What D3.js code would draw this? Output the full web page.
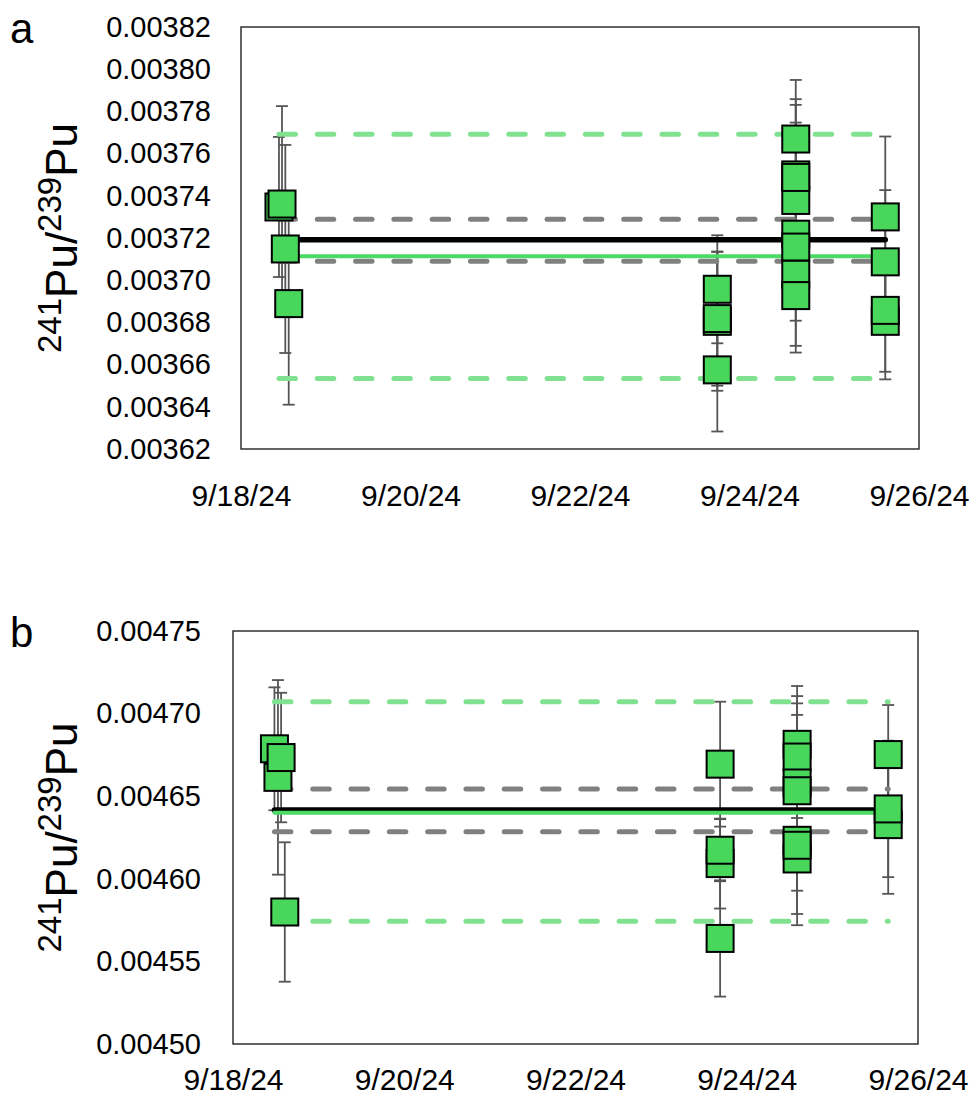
<!DOCTYPE html>
<html>
<head>
<meta charset="utf-8">
<style>
  body { margin: 0; background: #fff; }
  svg text { font-family: "Liberation Sans", Arial, sans-serif; fill: #000; }
</style>
<title>241Pu/239Pu ratios</title>
</head>
<body>
<script src="https://cdn.jsdelivr.net/npm/d3@7"></script>
<script>

// ---- panel a data ----
var aDates  = ["2024-09-18T10:45","2024-09-18T11:37","2024-09-18T12:33","2024-09-18T13:31",
               "2024-09-23T14:53","2024-09-23T14:53","2024-09-23T14:53","2024-09-23T14:53",
               "2024-09-24T13:06","2024-09-24T13:06","2024-09-24T13:06","2024-09-24T13:06",
               "2024-09-24T13:06","2024-09-24T13:06","2024-09-24T13:06","2024-09-24T13:06",
               "2024-09-25T14:27","2024-09-25T14:27","2024-09-25T14:27","2024-09-25T14:27"];
var aValues = [0.0037347,0.0037361,0.0037148,0.0036889,
               0.0036957,0.0036805,0.0036818,0.0036575,
               0.0037669,0.0037499,0.0037378,0.0037487,
               0.0037218,0.0037157,0.0037028,0.0036927,
               0.0037300,0.0037087,0.0036805,0.0036857];
var aErrors = [0.0000332,0.0000464,0.0000493,0.0000479,
               0.0000256,0.0000329,0.0000318,0.0000292,
               0.0000280,0.0000359,0.0000166,0.0000344,
               0.0000529,0.0000261,0.0000220,0.0000270,
               0.0000381,0.0000340,0.0000275,0.0000291];
var aMean = 0.0037192, aMeanBand = [0.0037289, 0.0037090];
var aAvg  = 0.0037113, aAvgBand  = [0.0037692, 0.0036534];
var aYTicks = [0.00362,0.00364,0.00366,0.00368,0.00370,0.00372,0.00374,0.00376,0.00378,0.00380,0.00382];

// ---- panel b data ----
var bDates  = ["2024-09-18T11:37","2024-09-18T12:36","2024-09-18T13:29","2024-09-18T14:31",
               "2024-09-23T16:32","2024-09-23T16:32","2024-09-23T16:32","2024-09-23T16:32",
               "2024-09-24T14:07","2024-09-24T14:07","2024-09-24T14:07","2024-09-24T14:07",
               "2024-09-24T14:07","2024-09-24T14:07","2024-09-24T14:07",
               "2024-09-25T15:39","2024-09-25T15:39","2024-09-25T15:39"];
var bValues = [0.0046787,0.0046614,0.0046734,0.0045799,
               0.0046694,0.0046092,0.0046173,0.0045639,
               0.0046814,0.0046737,0.0046580,0.0046533,
               0.0046120,0.0046233,0.0046203,
               0.0046752,0.0046328,0.0046423];
var bErrors = [0.0000372,0.0000589,0.0000392,0.0000422,
               0.0000378,0.0000272,0.0000188,0.0000352,
               0.0000353,0.0000369,0.0000482,0.0000459,
               0.0000401,0.0000305,0.0000416,
               0.0000300,0.0000419,0.0000413];
var bMean = 0.0046417, bMeanBand = [0.0046544, 0.0046285];
var bAvg  = 0.0046400, bAvgBand  = [0.0047072, 0.0045743];
var bYTicks = [0.00450,0.00455,0.00460,0.00465,0.00470,0.00475];

var xTicks = ["2024-09-18","2024-09-20","2024-09-22","2024-09-24","2024-09-26"];

var parse = d3.isoParse;
var fmtDate = d3.timeFormat("%-m/%-d/%y");
var fmtVal = d3.format(".5f");

var svg = d3.select("body").append("svg")
    .attr("width", 974)
    .attr("height", 1099);

function panel(o) {
  var x = d3.scaleTime()
      .domain([parse(xTicks[0]), parse(xTicks[xTicks.length - 1])])
      .range([o.left, o.right]);
  var y = d3.scaleLinear()
      .domain(o.yDomain)
      .range([o.bottom, o.top]);

  var g = svg.append("g");

  // y axis labels
  g.append("g")
      .attr("transform", `translate(${o.left},0)`)
      .call(d3.axisLeft(y).tickValues(o.yTicks).tickSize(0).tickPadding(o.yPad).tickFormat(fmtVal))
      .call(s => s.select(".domain").remove())
      .selectAll("text")
      .style("font-size", "29px")
      .style("font-family", "Liberation Sans, Arial, sans-serif");

  // x axis labels
  g.append("g")
      .attr("transform", `translate(0,${o.bottom})`)
      .call(d3.axisBottom(x).tickValues(xTicks.map(parse)).tickSize(0).tickPadding(o.xPad).tickFormat(fmtDate))
      .call(s => s.select(".domain").remove())
      .selectAll("text")
      .style("font-size", "30px")
      .style("font-family", "Liberation Sans, Arial, sans-serif");

  // frame
  g.append("rect")
      .attr("x", o.left).attr("y", o.top)
      .attr("width", o.right - o.left).attr("height", o.bottom - o.top)
      .attr("fill", "none").attr("stroke", "#222").attr("stroke-width", 1.4);

  var pts = o.dates.map((d, i) => ({ date: parse(d), v: o.values[i], e: o.errors[i] }));
  var x0 = d3.min(pts, d => d.date), x1 = d3.max(pts, d => d.date);

  // error bars
  var eb = g.append("g").attr("stroke", "#555").attr("stroke-width", 1.8);
  pts.forEach(function(d) {
    var cx = x(d.date);
    eb.append("line").attr("x1", cx).attr("x2", cx).attr("y1", y(d.v + d.e)).attr("y2", y(d.v - d.e));
    eb.append("line").attr("x1", cx - 6).attr("x2", cx + 6).attr("y1", y(d.v + d.e)).attr("y2", y(d.v + d.e));
    eb.append("line").attr("x1", cx - 6).attr("x2", cx + 6).attr("y1", y(d.v - d.e)).attr("y2", y(d.v - d.e));
  });

  function hline(v, color, w, dash) {
    g.append("line")
        .attr("x1", x(x0)).attr("x2", x(x1))
        .attr("y1", y(v)).attr("y2", y(v))
        .attr("stroke", color).attr("stroke-width", w)
        .attr("stroke-linecap", "round")
        .attr("stroke-dasharray", dash || null);
  }
  o.avgBand.forEach(v => hline(v, "#80e290", 5, "16.5 21.8"));
  o.meanBand.forEach(v => hline(v, "#808080", 5, "16.5 21.8"));
  hline(o.mean, "#000", 5.5);
  hline(o.avg, "#4cd964", 4);

  // markers
  var s = 27;
  g.append("g").selectAll("rect")
      .data(pts)
    .enter().append("rect")
      .attr("x", d => x(d.date) - s / 2)
      .attr("y", d => y(d.v) - s / 2)
      .attr("width", s).attr("height", s)
      .attr("fill", "#48d65b")
      .attr("stroke", "#000").attr("stroke-width", 2);

  // panel letter
  g.append("text")
      .attr("x", 10).attr("y", o.top + 16)
      .style("font-size", "42px")
      .text(o.letter);

  // y title
  var t = g.append("text")
      .attr("transform", `translate(77,${(o.top + o.bottom) / 2}) rotate(-90)`)
      .attr("text-anchor", "middle")
      .style("font-size", "44px");
  t.append("tspan").style("font-size", "33px").attr("baseline-shift", "16px").text("241");
  t.append("tspan").text("Pu/");
  t.append("tspan").style("font-size", "33px").attr("baseline-shift", "16px").text("239");
  t.append("tspan").text("Pu");
}

panel({ letter: "a", left: 241, right: 919, top: 27, bottom: 449,
        yDomain: [0.00362, 0.00382], yTicks: aYTicks, yPad: 30, xPad: 36,
        dates: aDates, values: aValues, errors: aErrors,
        mean: aMean, meanBand: aMeanBand, avg: aAvg, avgBand: aAvgBand });

panel({ letter: "b", left: 233, right: 918, top: 631, bottom: 1044,
        yDomain: [0.00450, 0.00475], yTicks: bYTicks, yPad: 32, xPad: 25,
        dates: bDates, values: bValues, errors: bErrors,
        mean: bMean, meanBand: bMeanBand, avg: bAvg, avgBand: bAvgBand });

</script>
</body>
</html>
